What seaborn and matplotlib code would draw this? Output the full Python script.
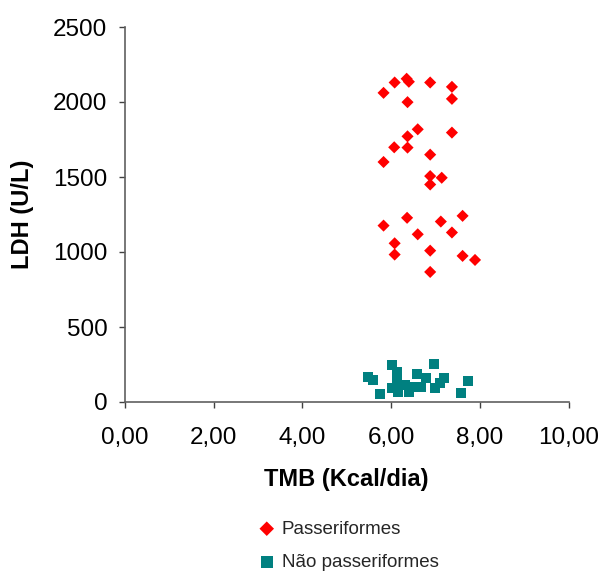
import matplotlib
matplotlib.use("Agg")
import matplotlib.pyplot as plt
import seaborn as sns
import pandas as pd
from matplotlib.ticker import FuncFormatter

# Data
pass_x = [5.83, 6.08, 6.35, 6.40, 6.88, 7.37, 7.37, 6.37, 6.60, 6.37, 6.07, 6.37, 7.37,
          5.83, 6.88, 6.88, 7.14, 6.88, 5.83, 6.36, 6.60, 6.08, 6.08, 6.88, 7.12, 7.61,
          7.37, 7.61, 7.89, 6.88]
pass_y = [2061, 2130, 2155, 2135, 2130, 2101, 2021, 1999, 1818, 1771, 1698, 1696, 1796,
          1600, 1649, 1506, 1495, 1450, 1176, 1228, 1118, 1058, 983, 1009, 1203, 1241,
          1130, 974, 947, 867]
nonpass_x = [5.47, 5.60, 5.75, 6.03, 6.13, 6.03, 6.13, 6.16, 6.31, 6.40, 6.58, 6.67,
             6.78, 6.97, 6.99, 7.10, 7.20, 7.57, 7.74, 6.50]
nonpass_y = [169, 147, 51, 247, 202, 91, 135, 69, 113, 69, 185, 102,
             158, 251, 91, 125, 162, 58, 140, 102]
series_names = ["Passeriformes", "Não passeriformes"]
x_ticks = [0, 2, 4, 6, 8, 10]
y_ticks = [0, 500, 1000, 1500, 2000, 2500]

sns.set_style("white")
plt.rcParams['font.family'] = ['Liberation Sans', 'DejaVu Sans']

df_p = pd.DataFrame({"x": pass_x, "y": pass_y})
df_n = pd.DataFrame({"x": nonpass_x, "y": nonpass_y})

fig = plt.figure(figsize=(6.04, 5.74), dpi=100)
ax = fig.add_axes([124.7 / 604, 1 - 402 / 574, (568.7 - 124.7) / 604, (402 - 27) / 574])

sns.scatterplot(data=df_p, x="x", y="y", ax=ax, marker="D", s=38, color="#FF0000",
                edgecolor="none", linewidth=0, label=series_names[0], clip_on=False)
sns.scatterplot(data=df_n, x="x", y="y", ax=ax, marker="s", s=52, color="#008080",
                edgecolor="none", linewidth=0, label=series_names[1], clip_on=False)

ax.set_xlim(0, 10)
ax.set_ylim(0, 2500)
ax.set_xticks(x_ticks)
ax.set_yticks(y_ticks)
ax.xaxis.set_major_formatter(FuncFormatter(lambda v, p: f"{v:.2f}".replace(".", ",")))
ax.yaxis.set_major_formatter(FuncFormatter(lambda v, p: f"{int(v)}"))

for s in ["top", "right"]:
    ax.spines[s].set_visible(False)
for s in ["left", "bottom"]:
    ax.spines[s].set_color("#606060")
    ax.spines[s].set_linewidth(1.2)

ax.tick_params(axis="both", which="major", direction="out", length=4.5, width=1,
               color="#404040", labelsize=17.5, labelcolor="black")
ax.tick_params(axis="x", pad=13.5)
ax.tick_params(axis="y", pad=8)
ax.tick_params(axis="both", left=True, bottom=True)

ax.set_xlabel("TMB (Kcal/dia)", fontsize=17, fontweight="bold", labelpad=14, color="black")
ax.set_ylabel("LDH (U/L)", fontsize=17, fontweight="bold", labelpad=14, color="black")

ax.legend_.remove()
handles, labels = ax.get_legend_handles_labels()
fig.legend(handles, labels, loc="upper left", bbox_to_anchor=(248 / 604, 1 - 513 / 574),
           frameon=False, fontsize=13.5, handletextpad=0.2, labelspacing=0.85,
           handlelength=1.2, borderaxespad=0, markerscale=1.2)

fig.savefig("out.png", dpi=100)
